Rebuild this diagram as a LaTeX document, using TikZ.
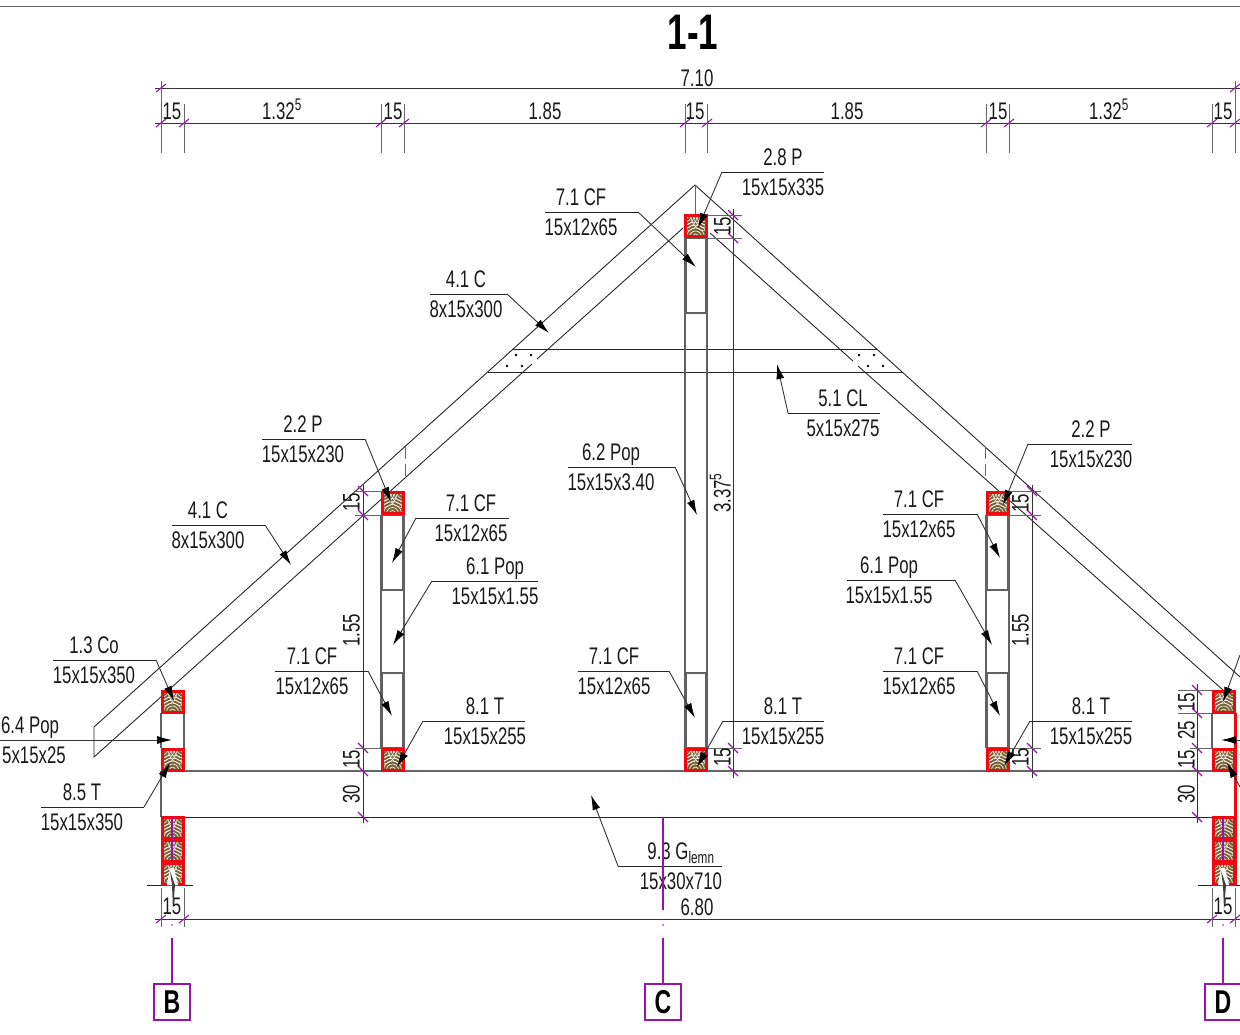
\documentclass[tikz,border=0pt]{standalone}
\usepackage{fontspec}
\usepackage{xcolor}
\setmainfont[FakeStretch=0.7]{Liberation Sans}
\usetikzlibrary{arrows.meta}
\definecolor{axiscol}{RGB}{150,20,170}
\definecolor{woodcol}{RGB}{120,96,50}
\definecolor{inkcol}{RGB}{25,25,25}
\definecolor{blockcol}{RGB}{238,8,16}

\begin{document}
\begin{tikzpicture}[x=1pt,y=-1pt,
        timber/.style={rectangle,draw=blockcol,line width=3pt,fill=woodcol,inner sep=0pt,minimum size=21pt,
          path picture={
            \foreach \r in {3,6,9,12,15}{
              \draw[white,line width=.6pt] (path picture bounding box.south) ++(\r pt,0pt) arc[start angle=0,end angle=180,radius=\r pt];
              \draw[white,line width=.5pt] (path picture bounding box.north west) ++(\r pt,0pt) arc[start angle=0,end angle=-90,radius=\r pt];
              \draw[white,line width=.5pt] (path picture bounding box.north east) ++(-\r pt,0pt) arc[start angle=180,end angle=270,radius=\r pt];
            }}},
        dim text/.style={font=\fontsize{24}{24}\selectfont,text=inkcol,inner sep=0pt,text height=17pt,text depth=0pt},
        dim line/.style={draw=black!80,line width=.9pt},
        ext line/.style={draw=black!60,line width=.9pt},
        edge line/.style={draw=black!85,line width=.9pt},
        post line/.style={draw=black!62,line width=1.1pt},
        grid tick/.style={draw=axiscol,line width=1.1pt},
        axis line/.style={draw=axiscol,line width=1.1pt},
        axis box/.style={rectangle,draw=axiscol,line width=1.3pt,minimum size=36pt,inner sep=0pt,font=\fontsize{33}{33}\bfseries\selectfont},
        leader/.style={draw=black!80,line width=.9pt,-{Latex[length=15pt,width=8pt,black]}},
        shelf/.style={draw=black!85,line width=.9pt}
      ]
      \useasboundingbox (0,0) rectangle (1240,1035);
      \draw[ext line] (0,6) -- (1240,6);
      \node[font=\fontsize{50}{50}\bfseries\selectfont,inner sep=0pt] (title) at (693,32) {1-1};

      % rafters
      \draw[edge line] (695,185) -- (94,727) -- (94,757) -- (532,364);
      \draw[edge line] (537,359) -- (683,228);
      \draw[edge line] (695,185) -- (1240,677);
      \draw[edge line] (710,233) -- (853,361);
      \draw[edge line] (858,366) -- (1223,690);
      \draw[ext line] (695,185) -- (695,215);
      \draw[ext line,dashed,dash pattern=on 12pt off 5pt] (405,447) -- (405,478);
      \draw[ext line,dashed,dash pattern=on 12pt off 5pt] (985,447) -- (985,478);

      % collar beam and its pins
      \draw[edge line] (513,349) -- (877,349);
      \draw[edge line] (488,372) -- (903,372);
      \foreach \px/\py in {516/355,531/355,507/366,522/366,874/355,859/355,883/366,868/366}
        \fill[black] (\px,\py) circle (1.4pt);

      % posts
      \foreach \xa/\xb/\ya in {381/404/515,685/707/238,986/1009/515}{
        \draw[post line] (\xa,\ya) -- (\xa,748);
        \draw[post line] (\xb,\ya) -- (\xb,748);
      }
      \foreach \xa/\xb/\ya/\yb in {382.5/402.5/515/590,382.5/402.5/673/748,686.5/705.5/238/313,686.5/705.5/673/748,987.5/1007.5/515/590,987.5/1007.5/673/748}{
        \draw[post line] (\xa,\ya) rectangle (\xb,\yb);
      }
      \foreach \cx in {161,184,1212}{
        \draw[post line] (\cx,713) -- (\cx,748);
      }

      % tie beam
      \draw[draw=black!60,line width=1.5pt] (161,771) -- (1212,771);
      \draw[edge line] (184,817) -- (1212,817);
      \draw[post line] (161,771) -- (161,817);
      \draw[draw=blockcol,line width=3pt] (1235,713) -- (1235,885);
      \draw[edge line] (147,885) -- (193,885);
      \draw[edge line] (1198,885) -- (1240,885);

      % dimension lines
      \draw[dim line] (155,88) -- (1240,88);
      \draw[dim line] (155,123) -- (1240,123);
      \draw[dim line] (155,919) -- (1240,919);
      \foreach \cx in {161,184,381,404,685,707,986,1009,1212,1235}{
        \draw[ext line] (\cx,104) -- (\cx,153);
        \draw[grid tick] (\cx-5,127) -- (\cx+5,119);
      }
      \foreach \cx in {161,1235}{
        \draw[ext line] (\cx,81) -- (\cx,104);
        \draw[grid tick] (\cx-5,92) -- (\cx+5,84);
      }
      \foreach \cx in {161,184,1212,1235}{
        \draw[ext line] (\cx,888) -- (\cx,927);
        \draw[grid tick] (\cx-5,923) -- (\cx+5,915);
      }
      \foreach \cx/\ya/\yb in {363/485/823,733/209/778,1032/485/778,1197/684/823}{
        \draw[dim line] (\cx,\ya) -- (\cx,\yb);
      }
      \foreach \cx/\cy in {363/491,363/515,363/748,363/771,363/817,733/215,733/238,733/748,733/771,1032/491,1032/515,1032/748,1032/771,1197/690,1197/713,1197/748,1197/771,1197/817}{
        \draw[grid tick] (\cx-5,\cy-5) -- (\cx+5,\cy+5);
      }
      \foreach \xa/\xb/\cy in {355/381/491,355/381/515,355/381/748,707/742/215,707/742/238,707/742/748,1009/1041/491,1009/1041/515,1009/1041/748,1178/1212/690,1178/1212/713,1190/1212/748}{
        \draw[ext line] (\xa,\cy) -- (\xb,\cy);
      }
      \foreach \nm/\tt/\tx/\ty in {a/7.10/697/78,b/15/172/111,c/{1.32\textsuperscript{5}}/282/111,d/15/393/111,e/1.85/545/111,f/15/695/111,g/1.85/847/111,h/15/998/111,i/{1.32\textsuperscript{5}}/1109/111,j/15/1223/111,k/15/172/906,l/6.80/697/907,m/15/1223/906}{
        \node[dim text] (dimh\nm) at (\tx,\ty) {\tt};
      }
      \foreach \nm/\tt/\tx/\ty in {a/15/351/502,b/1.55/351/630,c/15/351/759,d/30/351/794,e/15/722/226,f/{3.37\textsuperscript{5}}/722/493,g/15/722/757,h/15/1020/503,i/1.55/1020/630,j/15/1020/757,k/15/1186/702,l/25/1186/730,m/15/1186/759,n/30/1186/794}{
        \node[dim text,rotate=90] (dimv\nm) at (\tx,\ty) {\tt};
      }

      % timber blocks
      \foreach \nm/\cx/\cy in {a/172.5/701.5,b/172.5/759.5,c/172.5/828,d/172.5/851,e/172.5/873.5,f/392.5/503,g/392.5/759.5,h/695.5/226.5,i/695.5/759.5,j/997.5/503,k/997.5/759.5,l/1223.5/701.5,m/1223.5/759.5,n/1223.5/828,o/1223.5/851,p/1223.5/873.5}{
        \node[timber] (block\nm) at (\cx,\cy) {};
      }
      % open foot of the lowest blocks
      \foreach \cx in {172,1223}{
        \fill[white] (\cx-2,868) -- (\cx-5,885) -- (\cx+6,885) -- (\cx+2,868) -- cycle;
        \fill[black!75] (\cx-2,871) -- (\cx+3,885) -- (\cx+1,910) -- (\cx,885) -- cycle;
      }

      % member labels
      \foreach \nm/\ta/\tb/\tx/\sy/\fx/\kx/\ux/\uy in {
        a/2.8 P/15x15x335/783/172/824/722/698/228,
        b/7.1 CF/15x12x65/581/212/545/638/696/267,
        c/4.1 C/8x15x300/466/294/430/507/549/333,
        d/5.1 CL/5x15x275/843/413/880/788/777/364,
        e/2.2 P/15x15x230/303/439/262/365/391/502,
        f/7.1 CF/15x12x65/471/518/509/416/392/563,
        g/6.1 Pop/15x15x1.55/495/581/538/432/393/645,
        h/6.2 Pop/15x15x3.40/611/467/568/675/697/515,
        i/4.1 C/8x15x300/208/525/172/265/291/565,
        j/1.3 Co/15x15x350/94/660/53/156/174/701,
        l/8.5 T/15x15x350/82/807/41/144/170/763,
        m/7.1 CF/15x12x65/312/671/275/368/392/716,
        n/8.1 T/15x15x255/485/721/525/423/397/767,
        o/7.1 CF/15x12x65/614/671/578/669/695/718,
        p/8.1 T/15x15x255/783/721/824/723/697/767,
        q/2.2 P/15x15x230/1091/444/1132/1028/1003/505,
        r/7.1 CF/15x12x65/919/514/883/977/1000/558,
        s/6.1 Pop/15x15x1.55/889/580/847/955/992/645,
        t/7.1 CF/15x12x65/919/671/883/977/1000/716,
        u/8.1 T/15x15x255/1091/721/1132/1030/1004/766,
        v/{9.3 G\textsubscript{lemn}}/15x30x710/681/866/722/618/591/795}{
        \node[dim text] (top\nm) at (\tx,\sy-15) {\ta};
        \node[dim text] (bot\nm) at (\tx,\sy+15) {\tb};
        \coordinate (end\nm) at (\fx,\sy);
        \coordinate (knee\nm) at (\kx,\sy);
        \coordinate (tip\nm) at (\ux,\uy);
        \draw[shelf] (end\nm) -- (knee\nm);
        \draw[leader] (knee\nm) -- (tip\nm);
      }
      % label at the sheet edge
      \node[dim text] (topk) at (30,725) {6.4 Pop};
      \node[dim text] (botk) at (34,755) {5x15x25};
      \coordinate (endk) at (0,740);
      \coordinate (tipk) at (172,740);
      \draw[leader] (endk) -- (tipk);
      % leaders coming in from beyond the sheet
      \coordinate (offa) at (1240,655);
      \coordinate (tipa) at (1223,702);
      \coordinate (offb) at (1240,740);
      \coordinate (tipb) at (1221,740);
      \coordinate (offc) at (1240,787);
      \coordinate (tipc) at (1227,763);
      \draw[leader] (offa) -- (tipa);
      \draw[leader] (offb) -- (tipb);
      \draw[leader] (offc) -- (tipc);

      % grid axes
      \node[axis box] (axisB) at (172,1002) {B};
      \node[axis box] (axisC) at (663,1002) {C};
      \node[axis box] (axisD) at (1223,1002) {D};
      \foreach \nm/\cx/\yb in {B/172/860,C/663/910,D/1223/860}{
        \coordinate (axt\nm) at (\cx,817);
        \coordinate (axm\nm) at (\cx,\yb);
        \coordinate (axs\nm) at (\cx,938);
        \draw[axis line] (axt\nm) -- (axm\nm);
        \draw[axis line] (axs\nm) -- (axis\nm);
        \fill[axiscol] (\cx,925) circle (.9pt);
      }
    \end{tikzpicture}
\end{document}
